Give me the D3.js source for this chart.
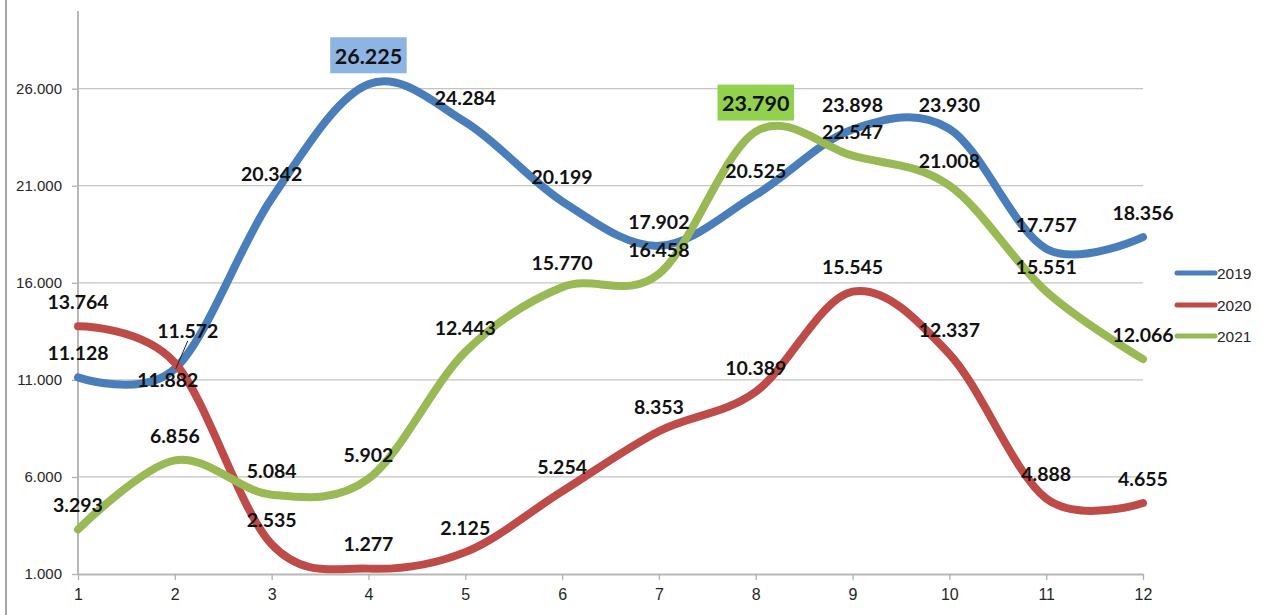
<!DOCTYPE html>
<html>
<head>
<meta charset="utf-8">
<script src="https://cdn.jsdelivr.net/npm/d3@7"></script>
<style>
  html, body { margin: 0; padding: 0; background: #fff; }
  svg { display: block; }
  .tick-label { font-family: "Liberation Sans", Arial, sans-serif; font-size: 15px; fill: #262626; }
  .x-tick .tick-label { font-size: 16px; }
  .data-label { font-family: Lato, "Open Sans", sans-serif; font-weight: 700; font-size: 19.5px; fill: #111; }
  .data-label.hl { font-size: 21.5px; }
  .legend-label { font-family: "Liberation Sans", Arial, sans-serif; font-size: 15.5px; fill: #262626; }
</style>
</head>
<body>
<svg id="chart" width="1263" height="615"></svg>
<script>
// ---- data ----
const months = [1, 2, 3, 4, 5, 6, 7, 8, 9, 10, 11, 12];
const seriesNames = ["2019", "2020", "2021"];
const values2019 = [11128, 11572, 20342, 26225, 24284, 20199, 17902, 20525, 23898, 23930, 17757, 18356];
const values2020 = [13764, 11882, 2535, 1277, 2125, 5254, 8353, 10389, 15545, 12337, 4888, 4655];
const values2021 = [3293, 6856, 5084, 5902, 12443, 15770, 16458, 23790, 22547, 21008, 15551, 12066];
const yTickValues = [1000, 6000, 11000, 16000, 21000, 26000];
const highlighted = [[0, 3], [2, 7]]; // [series index, month index] shown with a filled box

// ---- styling / layout ----
const colors = ["#4A7EBB", "#BE4B48", "#98B954"];
const boxColors = { 0: "#8DB4E2", 2: "#92D050" };
const W = 1263, H = 615;
const plot = { left: 78, right: 1143, top: 11, bottom: 574 };
// special label placements relative to the point: [dx, dy]
const labelShift = { "0-1": [13, -38], "1-1": [-7, 17] };
const leader = { "0-1": true };

const svg = d3.select("#chart");
const locale = d3.formatLocale({ decimal: ",", thousands: ".", grouping: [3], currency: ["", ""] });
const fmt = locale.format(",.0f");

const x = d3.scaleLinear().domain([1, 12]).range([plot.left, plot.right]);
const y = d3.scaleLinear().domain([1000, 30000]).range([plot.bottom, plot.top]);

// outer chart border (left edge)
svg.append("line").attr("x1", 6).attr("x2", 6).attr("y1", 0).attr("y2", H)
  .attr("stroke", "#a6a6a6").attr("stroke-width", 2);

// gridlines
svg.append("g").selectAll("line").data(yTickValues.filter(v => v !== 1000)).join("line")
  .attr("x1", plot.left).attr("x2", plot.right)
  .attr("y1", d => y(d)).attr("y2", d => y(d))
  .attr("stroke", "#c4c4c4").attr("stroke-width", 1.3);

// y axis
const yAxis = svg.append("g").attr("transform", `translate(${plot.left},0)`)
  .call(d3.axisLeft(y).tickValues(yTickValues).tickFormat(fmt).tickSize(6).tickPadding(10));
yAxis.select(".domain").remove();
yAxis.selectAll(".tick line").attr("stroke", "#b0b0b0").attr("stroke-width", 1.3);
yAxis.selectAll(".tick text").attr("class", "tick-label").attr("font-size", null).attr("font-family", null);
svg.append("line").attr("x1", plot.left).attr("x2", plot.left).attr("y1", plot.top).attr("y2", plot.bottom)
  .attr("stroke", "#b8b8b8").attr("stroke-width", 2);

// x axis
const xAxis = svg.append("g").attr("class", "x-tick").attr("transform", `translate(0,${plot.bottom})`)
  .call(d3.axisBottom(x).tickValues(months).tickFormat(d3.format("d")).tickSize(6).tickPadding(9).tickSizeOuter(0));
xAxis.select(".domain").attr("stroke", "#b8b8b8").attr("stroke-width", 2);
xAxis.selectAll(".tick line").attr("stroke", "#b0b0b0").attr("stroke-width", 1.3);
xAxis.selectAll(".tick text").attr("class", "tick-label").attr("font-size", null).attr("font-family", null);

// lines
const allSeries = [values2019, values2020, values2021];
const line = d3.line().x((d, i) => x(months[i])).y(d => y(d)).curve(d3.curveCardinal.tension(0));
svg.append("g").selectAll("path").data(allSeries).join("path")
  .attr("d", d => line(d))
  .attr("fill", "none")
  .attr("stroke", (d, i) => colors[i])
  .attr("stroke-width", 8)
  .attr("stroke-linecap", "round")
  .attr("stroke-linejoin", "round");

// data labels
const labels = svg.append("g");
const isHl = (s, m) => highlighted.some(h => h[0] === s && h[1] === m);
allSeries.forEach((vals, s) => {
  vals.forEach((v, m) => {
    const key = `${s}-${m}`;
    const px = x(months[m]), py = y(v);
    const hl = isHl(s, m);
    const sh = labelShift[key] || [0, hl ? -28 : -24];
    const cx = px + sh[0], cy = py + sh[1];
    if (hl) {
      const g = labels.append("g");
      const rect = g.append("rect").attr("fill", boxColors[s]);
      const t = g.append("text").attr("class", "data-label hl")
        .attr("x", cx).attr("y", cy).attr("dy", "0.35em").attr("text-anchor", "middle").text(fmt(v));
      const bb = t.node().getBBox();
      const bw = bb.width + 9, bh = 36;
      rect.attr("x", cx - bw / 2).attr("y", cy - bh / 2 - 1).attr("width", bw).attr("height", bh);
    } else {
      if (leader[key]) {
        labels.append("line").attr("x1", cx).attr("y1", cy + 10).attr("x2", px + 1).attr("y2", py)
          .attr("stroke", "#222").attr("stroke-width", 1);
      }
      labels.append("text").attr("class", "data-label")
        .attr("x", cx).attr("y", cy).attr("dy", "0.35em").attr("text-anchor", "middle").text(fmt(v));
    }
  });
});

// legend
const legend = svg.append("g").attr("transform", "translate(1177,0)");
const legendY = [273, 305, 336];
seriesNames.forEach((name, i) => {
  legend.append("line").attr("x1", 0).attr("x2", 38).attr("y1", legendY[i]).attr("y2", legendY[i])
    .attr("stroke", colors[i]).attr("stroke-width", 5).attr("stroke-linecap", "round");
  legend.append("text").attr("class", "legend-label").attr("x", 40).attr("y", legendY[i]).attr("dy", "0.36em").text(name);
});
</script>
</body>
</html>
